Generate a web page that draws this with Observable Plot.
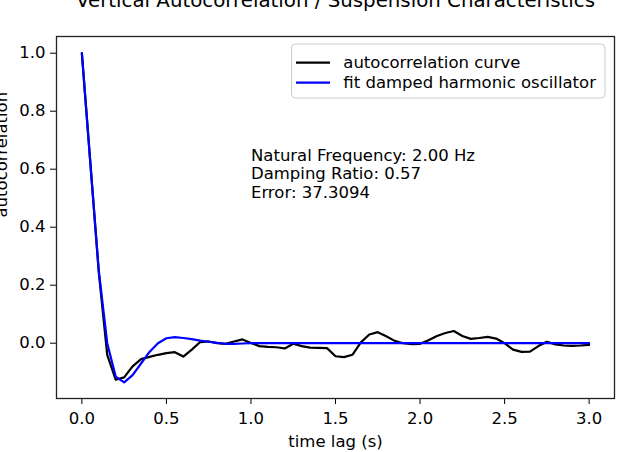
<!DOCTYPE html>
<html>
<head>
<meta charset="utf-8">
<script src="https://cdn.jsdelivr.net/npm/d3@7"></script>
<script src="https://cdn.jsdelivr.net/npm/@observablehq/plot@0.6"></script>
<style>
  html, body { margin: 0; padding: 0; background: #fff; }
  #chart { width: 618px; height: 452px; overflow: hidden; }
  svg { font-family: "DejaVu Sans", sans-serif; }
</style>
</head>
<body>
<div id="chart"></div>
<script>
// ---- data ----
const lags = [0.00,0.05,0.10,0.15,0.20,0.25,0.30,0.35,0.40,0.45,0.50,0.55,0.60,0.65,0.70,0.75,0.80,0.85,0.90,0.95,
  1.00,1.05,1.10,1.15,1.20,1.25,1.30,1.35,1.40,1.45,1.50,1.55,1.60,1.65,1.70,1.75,1.80,1.85,1.90,1.95,
  2.00,2.05,2.10,2.15,2.20,2.25,2.30,2.35,2.40,2.45,2.50,2.55,2.60,2.65,2.70,2.75,2.80,2.85,2.90,2.95,3.00];

const autocorrelation = [1.000,0.625,0.245,-0.040,-0.126,-0.118,-0.080,-0.055,-0.047,-0.040,-0.034,-0.031,-0.046,-0.022,0.004,0.006,0.000,-0.002,0.006,0.013,
  0.001,-0.010,-0.013,-0.014,-0.018,-0.002,-0.010,-0.015,-0.016,-0.017,-0.045,-0.048,-0.040,0.003,0.030,0.038,0.024,0.008,0.000,-0.003,
  -0.002,0.010,0.025,0.035,0.042,0.025,0.015,0.018,0.022,0.016,0.000,-0.022,-0.030,-0.029,-0.010,0.005,-0.004,-0.008,-0.009,-0.008,-0.006];

const fitOscillator = [1.000,0.620,0.250,0.000,-0.115,-0.135,-0.110,-0.070,-0.030,0.000,0.017,0.021,0.018,0.014,0.009,0.005,0.001,-0.002,-0.002,-0.001,
  0.000,0.000,0.000,0.000,0.000,0.000,0.000,0.000,0.000,0.000,0.000,0.000,0.000,0.000,0.000,0.000,0.000,0.000,0.000,0.000,
  0.000,0.000,0.000,0.000,0.000,0.000,0.000,0.000,0.000,0.000,0.000,0.000,0.000,0.000,0.000,0.000,0.000,0.000,0.000,0.000,0.000];

const xTicks = [0, 0.5, 1.0, 1.5, 2.0, 2.5, 3.0];
const yTicks = [0, 0.2, 0.4, 0.6, 0.8, 1.0];

const titleText = "Vertical Autocorrelation / Suspension Characteristics";
const xLabel = "time lag (s)";
const yLabel = "autocorrelation";
const seriesNames = ["autocorrelation curve", "fit damped harmonic oscillator"];
const seriesColors = ["#000000", "#0000ff"];
const annotationLines = ["Natural Frequency: 2.00 Hz", "Damping Ratio: 0.57", "Error: 37.3094"];
const annotationAt = {x: 1.0, y: 0.5};

// ---- build tables ----
const acfRows = lags.map((t, i) => ({t, v: autocorrelation[i]}));
const fitRows = lags.map((t, i) => ({t, v: fitOscillator[i]}));

const FS = 16.5;

const chart = Plot.plot({
  width: 618,
  height: 452,
  marginLeft: 56,
  marginRight: 4,
  marginTop: 36,
  marginBottom: 54,
  style: {fontFamily: "DejaVu Sans, sans-serif", fontSize: FS + "px", background: "#fff", color: "#000"},
  x: {domain: [-0.15, 3.15]},
  y: {domain: [-0.1907, 1.0576]},
  marks: [
    Plot.axisX({ticks: xTicks, tickFormat: d3.format(".1f"), tickSize: 6, tickPadding: 8, fontSize: FS, label: null, stroke: "#000"}),
    Plot.axisY({ticks: yTicks, tickFormat: d3.format(".1f"), tickSize: 6, tickPadding: 5, fontSize: FS, label: null, stroke: "#000"}),
    Plot.line(acfRows, {x: "t", y: "v", stroke: seriesColors[0], strokeWidth: 2.2}),
    Plot.line(fitRows, {x: "t", y: "v", stroke: seriesColors[1], strokeWidth: 2.2}),
    Plot.text([annotationLines.join("\n")], {x: () => annotationAt.x, y: () => annotationAt.y, text: d => d,
      textAnchor: "start", lineAnchor: "bottom", lineHeight: 1.14, fontSize: FS, fill: "#000"}),
    Plot.frame({stroke: "#222", strokeWidth: 1.3}),
    Plot.text([titleText], {frameAnchor: "top", text: d => d, lineAnchor: "bottom", dy: -30, fontSize: 19.8, fill: "#000"}),
    Plot.text([xLabel], {frameAnchor: "bottom", text: d => d, lineAnchor: "bottom", dy: 48, fontSize: FS, fill: "#000"}),
    Plot.text([yLabel], {frameAnchor: "left", text: d => d, lineAnchor: "bottom", rotate: -90, dx: -50, fontSize: FS, fill: "#000"})
  ]
});

document.getElementById("chart").appendChild(chart);

// ---- legend (upper right, matplotlib style) ----
const svg = d3.select(chart);
const lg = svg.append("g").attr("font-family", "DejaVu Sans, sans-serif").attr("font-size", FS)
  .attr("text-anchor", "start");
lg.append("rect").attr("x", 291.5).attr("y", 44).attr("width", 313.5).attr("height", 54)
  .attr("rx", 4).attr("fill", "#fff").attr("fill-opacity", 0.8).attr("stroke", "#cccccc").attr("stroke-width", 1);
seriesNames.forEach((name, i) => {
  const yy = 62.7 + i * 20;
  lg.append("line").attr("x1", 296).attr("x2", 330).attr("y1", yy).attr("y2", yy)
    .attr("stroke", seriesColors[i]).attr("stroke-width", 2.2);
  lg.append("text").attr("x", 343.3).attr("y", yy).attr("dy", "0.35em")
    .attr("text-anchor", "start").attr("fill", "#000").text(name);
});
</script>
</body>
</html>
